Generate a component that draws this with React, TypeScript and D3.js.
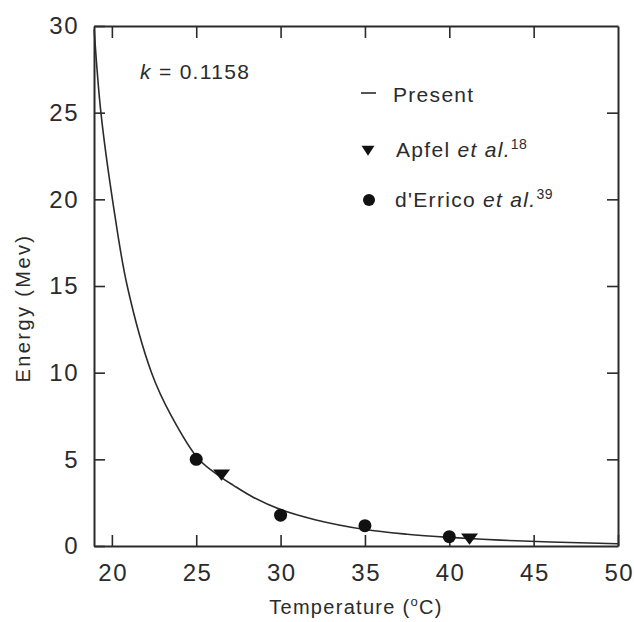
import { useEffect, useRef } from 'react'
import * as d3 from 'd3'

// Curva "Present" (T em °C, E em MeV)
const curveT = [18.95, 19.35, 20.08, 20.91, 22.35, 23.5, 25.15, 26.5, 27.2, 28.4, 30, 32.1, 35, 37.5, 40, 43, 46, 50]
const curveE = [29.8, 25, 19.7, 15, 10, 7.55, 5.0, 3.95, 3.5, 2.8, 2.1, 1.5, 0.95, 0.68, 0.5, 0.34, 0.23, 0.13]

// Apfel et al. (triângulos)
const apfelT = [26.5, 41.2]
const apfelE = [4.2, 0.5]

// d'Errico et al. (círculos)
const derricoT = [25, 30, 35, 40]
const derricoE = [5.0, 1.78, 1.17, 0.54]

const xTicks = [20, 25, 30, 35, 40, 45, 50]
const yTicks = [0, 5, 10, 15, 20, 25, 30]
const topTicks = [20, 25, 30, 35, 40, 45]

const INK = '#2b2b2b'
const FONT = '"Liberation Sans", Arial, Helvetica, sans-serif'

export default function App() {
  const ref = useRef<SVGSVGElement | null>(null)

  useEffect(() => {
    const el = ref.current
    if (!el) return
    const W = 634, H = 622
    const M = { top: 26, right: 16, bottom: 76, left: 94 }
    const iw = W - M.left - M.right
    const ih = H - M.top - M.bottom

    const svg = d3.select(el)
    svg.selectAll('*').remove()
    svg.attr('width', W).attr('height', H).attr('viewBox', `0 0 ${W} ${H}`)

    const x = d3.scaleLinear().domain([18.94, 50]).range([0, iw])
    const y = d3.scaleLinear().domain([0, 30]).range([ih, 0])

    const g = svg.append('g').attr('transform', `translate(${M.left},${M.top})`)

    const styleAxis = (s: any) => {
      s.selectAll('path').attr('stroke', INK).attr('stroke-width', 2)
      s.selectAll('line').attr('stroke', INK).attr('stroke-width', 1.6)
      s.selectAll('text').attr('fill', INK).attr('font-family', FONT).attr('font-size', 24)
        .attr('letter-spacing', 1.5)
    }

    // eixos (marcas para dentro)
    g.append('g')
      .attr('transform', `translate(0,${ih})`)
      .call(d3.axisBottom(x).tickValues(xTicks).tickSizeInner(-11).tickSizeOuter(0).tickPadding(18).tickFormat(d3.format('d')))
      .call(styleAxis)
      .call(s => s.selectAll('text').attr('dx', 0.75))
    g.append('g')
      .call(d3.axisLeft(y).tickValues(yTicks).tickSizeInner(-11).tickSizeOuter(0).tickPadding(15).tickFormat(d3.format('d')))
      .call(styleAxis)
    g.append('g')
      .call(d3.axisTop(x).tickValues(topTicks).tickSizeInner(-12).tickSizeOuter(0).tickFormat(() => ''))
      .call(styleAxis)
    g.append('g')
      .attr('transform', `translate(${iw},0)`)
      .call(d3.axisRight(y).tickValues(yTicks.slice(1, -1)).tickSizeInner(-11).tickSizeOuter(0).tickFormat(() => ''))
      .call(styleAxis)

    // curva
    const line = d3.line<number>()
      .x((d, i) => x(curveT[i]))
      .y(d => y(d))
      .curve(d3.curveCatmullRom.alpha(0.5))
    g.append('path')
      .datum(curveE)
      .attr('fill', 'none')
      .attr('stroke', INK)
      .attr('stroke-width', 1.6)
      .attr('d', line)

    const tri = d3.symbol().type(d3.symbolTriangle).size(80)

    // pontos
    g.selectAll('circle.derrico')
      .data(derricoE)
      .join('circle')
      .attr('class', 'derrico')
      .attr('cx', (d, i) => x(derricoT[i]))
      .attr('cy', d => y(d))
      .attr('r', 6.5)
      .attr('fill', '#111')

    g.selectAll('path.apfel')
      .data(apfelE)
      .join('path')
      .attr('class', 'apfel')
      .attr('d', tri)
      .attr('transform', (d, i) => `translate(${x(apfelT[i])},${y(d)}) rotate(180) scale(1.25,0.95)`)
      .attr('fill', '#111')

    // k
    const kt = svg.append('text')
      .attr('x', 140).attr('y', 79)
      .attr('font-family', FONT).attr('font-size', 21).attr('fill', INK)
      .attr('letter-spacing', 1.3)
    kt.append('tspan').attr('font-style', 'italic').text('k')
    kt.append('tspan').text(' = 0.1158')

    // legenda
    const lg = svg.append('g').attr('font-family', FONT).attr('font-size', 21).attr('fill', INK)
      .attr('letter-spacing', 1.3)
    lg.append('line').attr('x1', 361).attr('x2', 376).attr('y1', 93).attr('y2', 93)
      .attr('stroke', '#555').attr('stroke-width', 2)
    lg.append('text').attr('x', 393).attr('y', 102).text('Present')

    lg.append('path').attr('d', tri).attr('fill', '#111')
      .attr('transform', 'translate(368,149) rotate(180) scale(0.95,0.85)')
    const t2 = lg.append('text').attr('x', 396).attr('y', 157)
    t2.append('tspan').text('Apfel ')
    t2.append('tspan').attr('font-style', 'italic').text('et al.')
    t2.append('tspan').attr('font-size', 14).attr('letter-spacing', 0.5).attr('dy', -8).text('18')

    lg.append('circle').attr('cx', 369).attr('cy', 200).attr('r', 6).attr('fill', '#111')
    const t3 = lg.append('text').attr('x', 395).attr('y', 207)
    t3.append('tspan').text("d'Errico ")
    t3.append('tspan').attr('font-style', 'italic').text('et al.')
    t3.append('tspan').attr('font-size', 14).attr('letter-spacing', 0.5).attr('dy', -8).text('39')

    // títulos dos eixos
    const xt = svg.append('text')
      .attr('x', M.left + iw / 2).attr('y', 614)
      .attr('text-anchor', 'middle')
      .attr('font-family', FONT).attr('font-size', 20).attr('fill', INK)
      .attr('letter-spacing', 1.3)
    xt.append('tspan').text('Temperature (')
    xt.append('tspan').attr('font-size', 13).attr('dy', -8).text('o')
    xt.append('tspan').attr('dy', 8).text('C)')

    svg.append('text')
      .attr('transform', `translate(30,308) rotate(-90)`)
      .attr('text-anchor', 'middle')
      .attr('font-family', FONT).attr('font-size', 20).attr('fill', INK)
      .attr('letter-spacing', 2.4)
      .text('Energy (Mev)')
  }, [])

  return (
    <svg ref={ref} style={{ position: 'absolute', left: 0, top: 0, background: '#fff' }} />
  )
}
